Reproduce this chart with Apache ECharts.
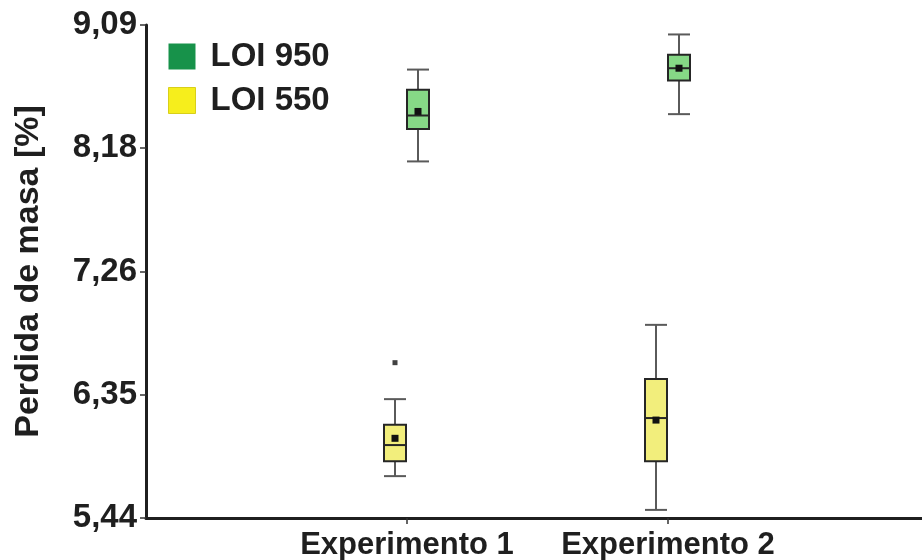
<!DOCTYPE html>
<html>
<head>
<meta charset="utf-8">
<title>Perdida de masa</title>
<script src="https://cdn.jsdelivr.net/npm/echarts@6/dist/echarts.min.js"></script>
<style>
  html, body { margin: 0; padding: 0; background: #ffffff; }
  #chart { width: 922px; height: 560px; }
</style>
</head>
<body>
<div id="chart"></div>
<script>
// Experiments shown on the x axis
const categories = ['Experimento 1', 'Experimento 2'];

// Box statistics per experiment: [min, Q1, median, Q3, max]
const loi950 = [
  [8.08, 8.32, 8.42, 8.61, 8.76],
  [8.43, 8.68, 8.77, 8.87, 9.02]
];
const loi950Mean = [8.45, 8.77];

const loi550 = [
  [5.75, 5.86, 5.98, 6.13, 6.32],
  [5.50, 5.86, 6.18, 6.47, 6.87]
];
const loi550Mean = [6.03, 6.165];

// Outliers: [experiment, value]
const loi550Outliers = [['Experimento 1', 6.59]];

// Y axis ticks and their labels
const yTickValues = [5.44, 6.35, 7.26, 8.18, 9.09];
const yTickLabels = ['5,44', '6,35', '7,26', '8,18', '9,09'];

const FONT = '"Liberation Sans", Arial, sans-serif';
const INK = '#1f1f1f';

// Padded category list so the two experiments sit at the 1/3 and 2/3 marks
const axisData = [''].concat(categories, ['']);

function boxData(stats, means) {
  return categories.map(function (c, i) {
    return [axisData.indexOf(c)].concat(stats[i], [means[i]]);
  });
}

function boxRenderer(offset, fill) {
  const half = 11;
  return function (params, api) {
    const cat = api.value(0);
    const pMin = api.coord([cat, api.value(1)]);
    const yQ1 = api.coord([cat, api.value(2)])[1];
    const yMed = api.coord([cat, api.value(3)])[1];
    const yQ3 = api.coord([cat, api.value(4)])[1];
    const yMax = api.coord([cat, api.value(5)])[1];
    const yMean = api.coord([cat, api.value(6)])[1];
    const x = pMin[0] + offset;
    const yMin = pMin[1];
    const whisker = { stroke: '#5a5a5a', lineWidth: 2 };
    const edge = { stroke: '#262626', lineWidth: 2 };
    return {
      type: 'group',
      children: [
        { type: 'line', shape: { x1: x, y1: yMin, x2: x, y2: yMax }, style: whisker },
        { type: 'line', shape: { x1: x - half, y1: yMin, x2: x + half, y2: yMin }, style: whisker },
        { type: 'line', shape: { x1: x - half, y1: yMax, x2: x + half, y2: yMax }, style: whisker },
        { type: 'rect', shape: { x: x - half, y: yQ3, width: half * 2, height: yQ1 - yQ3 },
          style: { fill: fill, stroke: '#262626', lineWidth: 2 } },
        { type: 'line', shape: { x1: x - half, y1: yMed, x2: x + half, y2: yMed }, style: edge },
        { type: 'rect', shape: { x: x - 3.5, y: yMean - 3.5, width: 7, height: 7 },
          style: { fill: '#111111' } }
      ]
    };
  };
}

const chart = echarts.init(document.getElementById('chart'), null, { renderer: 'canvas' });

chart.setOption({
  animation: false,
  backgroundColor: '#ffffff',
  grid: {
    left: 146, width: 783, top: 25, bottom: 42,
    containLabel: false,
    outerBoundsMode: 'none'
  },
  legend: {
    orient: 'vertical',
    left: 168,
    top: 40,
    padding: 0,
    icon: 'rect',
    itemWidth: 27,
    itemHeight: 26,
    itemGap: 11,
    textStyle: { fontFamily: FONT, fontSize: 33, fontWeight: 'bold', color: INK, padding: [0, 0, 0, 10] },
    data: [
      { name: 'LOI 950', itemStyle: { color: '#17924a' } },
      { name: 'LOI 550', itemStyle: { color: '#f6ee1c', borderColor: '#d8cf1a', borderWidth: 1 } }
    ]
  },
  xAxis: {
    type: 'category',
    data: axisData,
    boundaryGap: false,
    axisLine: { lineStyle: { color: INK, width: 3 } },
    axisTick: {
      length: 6,
      interval: function (index, value) { return value !== ''; },
      lineStyle: { color: '#333333', width: 1.5 }
    },
    axisLabel: {
      interval: 0,
      margin: 12,
      fontFamily: FONT,
      fontSize: 31,
      fontWeight: 'bold',
      color: INK
    },
    splitLine: { show: false }
  },
  yAxis: {
    type: 'value',
    min: 5.44,
    max: 9.09,
    name: 'Perdida de masa [%]',
    nameLocation: 'middle',
    nameRotate: 90,
    nameGap: 100,
    nameTextStyle: { fontFamily: FONT, fontSize: 34, fontWeight: 'bold', color: INK },
    axisLine: { show: true, lineStyle: { color: INK, width: 3 } },
    axisTick: {
      show: true,
      length: 6,
      customValues: yTickValues,
      lineStyle: { color: '#333333', width: 1.5 }
    },
    axisLabel: {
      customValues: yTickValues,
      margin: 9,
      fontFamily: FONT,
      fontSize: 33,
      fontWeight: 'bold',
      color: INK,
      formatter: function (v) {
        const i = yTickValues.indexOf(v);
        return i >= 0 ? yTickLabels[i] : '';
      }
    },
    splitLine: { show: false }
  },
  series: [
    {
      name: 'LOI 550',
      type: 'custom',
      clip: false,
      itemStyle: { color: '#f6ee1c' },
      encode: { x: 0, y: [1, 2, 3, 4, 5] },
      renderItem: boxRenderer(-12, '#f2ee7c'),
      data: boxData(loi550, loi550Mean)
    },
    {
      name: 'LOI 950',
      type: 'custom',
      clip: false,
      itemStyle: { color: '#17924a' },
      encode: { x: 0, y: [1, 2, 3, 4, 5] },
      renderItem: boxRenderer(11, '#86d886'),
      data: boxData(loi950, loi950Mean)
    },
    {
      name: 'LOI 550',
      type: 'scatter',
      symbol: 'rect',
      symbolSize: 5,
      symbolOffset: [-12, 0],
      itemStyle: { color: '#111111' },
      data: loi550Outliers.map(function (o) { return [axisData.indexOf(o[0]), o[1]]; })
    }
  ]
});
</script>
</body>
</html>
